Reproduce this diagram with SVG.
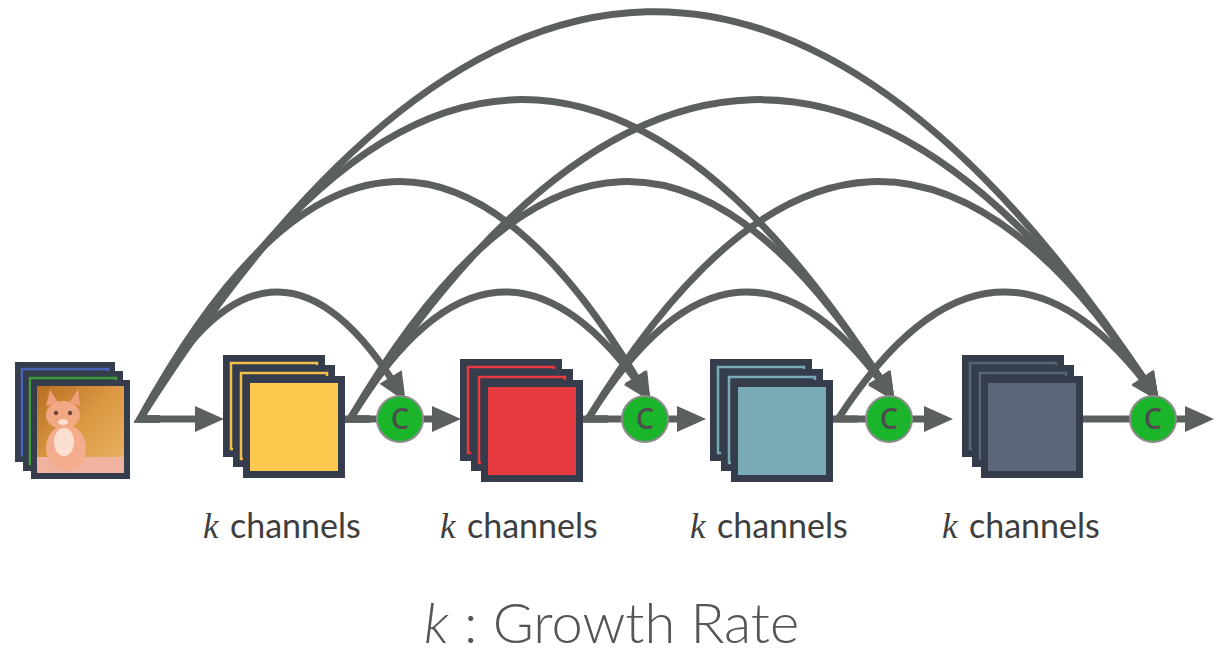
<svg xmlns="http://www.w3.org/2000/svg" width="1220" height="653" viewBox="0 0 1220 653">
<style>
.dk{fill:#353d4c}
.ln{fill:none;stroke-width:2.5}
.con{fill:none;stroke:#5b605c;stroke-width:7;stroke-linejoin:miter}
.arr{marker-end:url(#ah)}
.cc{fill:#1bb52b;stroke:#8c8c8c;stroke-width:2}
.ct{font-family:"Open Sans","Liberation Sans",sans-serif;font-weight:600;font-size:29px;fill:#4d4d4d;text-anchor:middle}
.kl{font-family:"Liberation Serif",serif;font-style:italic;font-size:35px;fill:#3e3e3e}
.ch{font-family:Lato,"Liberation Sans",sans-serif;font-size:34px;fill:#3e3e3e}
.gr{font-family:Lato,"Liberation Sans",sans-serif;font-weight:300;font-size:56px;fill:#555555}
</style>
<defs>
<marker id="ah" markerUnits="userSpaceOnUse" markerWidth="30" markerHeight="26" refX="20" refY="13" orient="auto" overflow="visible">
<path d="M0,0 L29,13 L0,26 z" fill="#5b605c"/>
</marker>
<linearGradient id="bg" x1="0" y1="0" x2="1" y2="1">
<stop offset="0" stop-color="#b86e22"/>
<stop offset="0.5" stop-color="#dd9a44"/>
<stop offset="1" stop-color="#e9b567"/>
</linearGradient>
</defs>

<g id="connectors">
<path class="con arr" d="M140,419 H215"/>
<path class="con" d="M345,419 H400"/>
<path class="con arr" d="M400,419 H452"/>
<path class="con" d="M583,419 H645"/>
<path class="con arr" d="M645,419 H697"/>
<path class="con" d="M832,419 H889"/>
<path class="con arr" d="M889,419 H944"/>
<path class="con" d="M1083,419 H1153"/>
<path class="con arr" d="M1153,419 H1205"/>

<path class="con arr" d="M160,419 L140,419 Q270,178 401,394"/>
<path class="con arr" d="M160,419 L140,419 Q392,-43 646,394"/>
<path class="con arr" d="M160,419 L140,419 Q514,-207 890,394"/>
<path class="con arr" d="M160,419 L140,419 Q646,-383 1154,394"/>
<path class="con arr" d="M370,419 L350,419 Q497,178 646,394"/>
<path class="con arr" d="M370,419 L350,419 Q620,-43 890,394"/>
<path class="con arr" d="M370,419 L350,419 Q751,-207 1154,394"/>
<path class="con arr" d="M608,419 L588,419 Q738,178 890,394"/>
<path class="con arr" d="M608,419 L588,419 Q870,-43 1154,394"/>
<path class="con arr" d="M858,419 L838,419 Q995,178 1154,394"/>
</g>

<g id="input">
<rect class="dk" x="15" y="362" width="100" height="100"/>
<rect class="ln" x="22" y="369" width="86" height="86" stroke="#4a63b8"/>
<rect class="dk" x="23" y="371" width="100" height="100"/>
<rect class="ln" x="30" y="378" width="86" height="86" stroke="#3e9a3a"/>
<rect class="dk" x="31" y="380" width="99" height="99"/>
<rect x="37" y="386" width="87" height="87" fill="url(#bg)"/>
<rect x="37" y="457" width="87" height="16" fill="#f0b3a0"/>
<path d="M46,406 L50,390 L58,402 Z" fill="#f1a07e"/>
<path d="M70,402 L78,389 L80,406 Z" fill="#f1a07e"/>
<ellipse cx="63" cy="415" rx="17" ry="14" fill="#f3a884"/>
<ellipse cx="66" cy="448" rx="20" ry="23" fill="#f3ac8c"/>
<ellipse cx="64" cy="442" rx="10" ry="14" fill="#fbe0d2"/>
<circle cx="56" cy="413" r="2.2" fill="#6b4a3c"/>
<circle cx="70" cy="413" r="2.2" fill="#6b4a3c"/>
<ellipse cx="63" cy="422" rx="5" ry="3" fill="#fbe0d2"/>
</g>

<g id="block1">
<rect class="dk" x="223" y="355" width="102" height="102"/>
<rect class="ln" x="231" y="363" width="86" height="86" stroke="#f2bf4a"/>
<rect class="dk" x="233" y="365" width="102" height="102"/>
<rect class="ln" x="241" y="373" width="86" height="86" stroke="#f2bf4a"/>
<rect class="dk" x="243" y="376" width="102" height="102"/>
<rect x="250" y="383" width="88" height="88" fill="#fdc94f"/>
</g>

<g id="block2">
<rect class="dk" x="460" y="359" width="102" height="102"/>
<rect class="ln" x="468" y="367" width="86" height="86" stroke="#e83a40"/>
<rect class="dk" x="471" y="369" width="102" height="102"/>
<rect class="ln" x="479" y="377" width="86" height="86" stroke="#e83a40"/>
<rect class="dk" x="481" y="380" width="102" height="102"/>
<rect x="488" y="387" width="88" height="88" fill="#e83b41"/>
</g>

<g id="block3">
<rect class="dk" x="710" y="359" width="102" height="102"/>
<rect class="ln" x="718" y="367" width="86" height="86" stroke="#79aab5"/>
<rect class="dk" x="721" y="369" width="102" height="102"/>
<rect class="ln" x="729" y="377" width="86" height="86" stroke="#79aab5"/>
<rect class="dk" x="731" y="380" width="102" height="102"/>
<rect x="738" y="387" width="88" height="88" fill="#79aab5"/>
</g>

<g id="block4">
<rect class="dk" x="962" y="355" width="102" height="102"/>
<rect class="ln" x="970" y="363" width="86" height="86" stroke="#5a6477"/>
<rect class="dk" x="972" y="365" width="102" height="102"/>
<rect class="ln" x="980" y="373" width="86" height="86" stroke="#5a6477"/>
<rect class="dk" x="981" y="376" width="102" height="102"/>
<rect x="988" y="383" width="88" height="88" fill="#5d6678"/>
</g>

<g id="c1"><circle class="cc" cx="400" cy="419" r="23"/><text class="ct" x="400" y="429">C</text></g>
<g id="c2"><circle class="cc" cx="645" cy="419" r="23"/><text class="ct" x="645" y="429">C</text></g>
<g id="c3"><circle class="cc" cx="889" cy="419" r="23"/><text class="ct" x="889" y="429">C</text></g>
<g id="c4"><circle class="cc" cx="1153" cy="419" r="23"/><text class="ct" x="1153" y="429">C</text></g>

<g id="labels">
<text class="kl" x="203" y="538">k</text><text class="ch" x="230" y="538">channels</text>
<text class="kl" x="440" y="538">k</text><text class="ch" x="467" y="538">channels</text>
<text class="kl" x="690" y="538">k</text><text class="ch" x="717" y="538">channels</text>
<text class="kl" x="942" y="538">k</text><text class="ch" x="969" y="538">channels</text>
<text class="gr" x="424" y="643"><tspan font-style="italic">k</tspan> : Growth Rate</text>
</g>
</svg>
